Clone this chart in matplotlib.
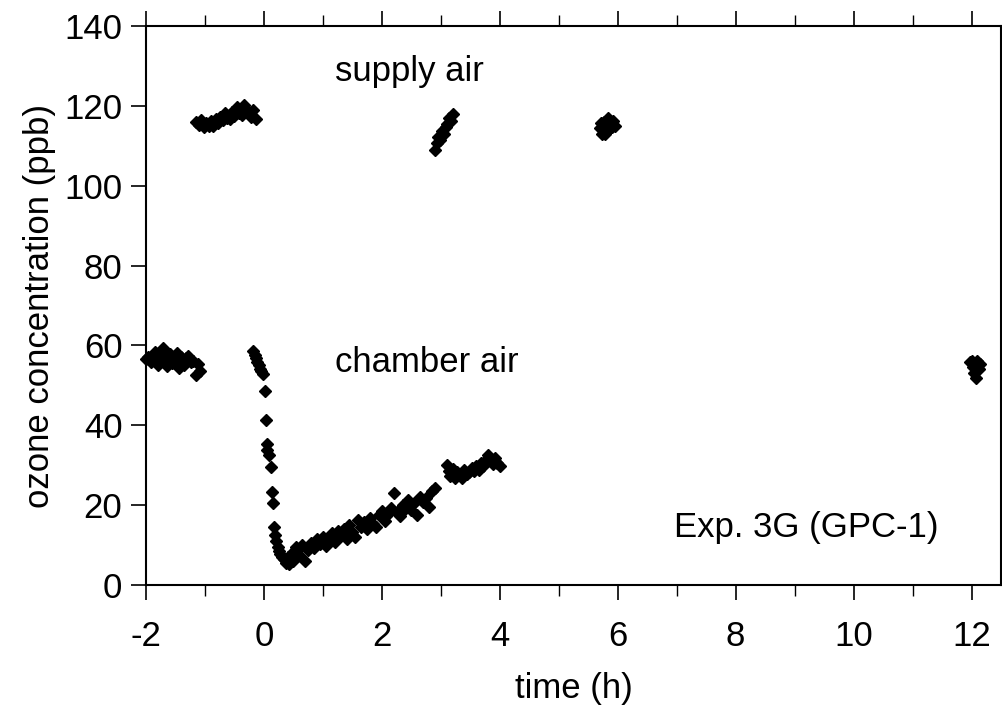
import matplotlib
matplotlib.use("Agg")
import matplotlib.pyplot as plt
from matplotlib.ticker import MultipleLocator

plt.rcParams['font.family'] = ['Liberation Sans', 'DejaVu Sans']

# chamber air, before exposure
chamber_pre_t = [-2.00, -1.96, -1.92, -1.88, -1.84, -1.80, -1.76, -1.72, -1.68, -1.64, -1.60, -1.56,
                 -1.52, -1.48, -1.44, -1.40, -1.36, -1.32, -1.28, -1.24, -1.20, -1.16, -1.12, -1.08]
chamber_pre_c = [56.5, 57.2, 55.8, 56.9, 58.3, 55.1, 57.6, 59.4, 56.2, 54.8, 57.9, 55.6,
                 56.4, 58.1, 54.3, 57.0, 55.2, 56.8, 57.3, 55.9, 56.1, 52.6, 55.4, 53.6]

# supply air, first period
supply1_t = [-1.15, -1.10, -1.06, -1.02, -0.98, -0.94, -0.90, -0.86, -0.82, -0.78, -0.74, -0.70, -0.66,
             -0.62, -0.58, -0.54, -0.50, -0.46, -0.42, -0.38, -0.34, -0.30, -0.26, -0.22, -0.18, -0.14]
supply1_c = [116.0, 115.2, 116.5, 114.6, 115.8, 115.0, 116.3, 114.9, 116.8, 115.7, 117.2, 116.4, 118.1,
             117.0, 116.6, 118.5, 117.4, 119.8, 118.2, 117.6, 120.1, 119.0, 118.4, 117.3, 118.9, 116.8]

# chamber air, drop after start
drop_t = [-0.18, -0.15, -0.13, -0.11, -0.09, -0.07, -0.05, -0.02, 0.02, 0.03, 0.05, 0.06, 0.08, 0.12,
          0.14, 0.16, 0.17, 0.19, 0.21, 0.23, 0.25, 0.28, 0.31, 0.34, 0.37, 0.40, 0.43, 0.46, 0.49]
drop_c = [58.5, 57.6, 56.8, 55.9, 55.0, 54.2, 53.6, 52.8, 48.6, 41.3, 35.4, 33.9, 32.6, 29.6,
          23.2, 20.6, 14.6, 12.6, 10.9, 9.4, 8.6, 7.8, 7.1, 6.5, 5.6, 6.9, 5.3, 7.6, 6.1]

# chamber air, recovery
rise_t = [0.50, 0.55, 0.60, 0.65, 0.70, 0.75, 0.80, 0.85, 0.90, 0.95, 1.00, 1.05, 1.10, 1.15, 1.20,
          1.25, 1.30, 1.35, 1.40, 1.45, 1.50, 1.55, 1.60, 1.65, 1.70, 1.75, 1.80, 1.85, 1.90, 1.95,
          2.00, 2.05, 2.10, 2.15, 2.20, 2.25, 2.30, 2.35, 2.40, 2.45, 2.50, 2.55, 2.60, 2.65, 2.70,
          2.75, 2.80, 2.85, 2.90]
rise_c = [8.2, 9.6, 7.4, 10.1, 5.9, 8.8, 10.6, 9.3, 11.4, 10.2, 12.0, 9.7, 11.8, 12.9, 10.8,
          13.6, 12.3, 14.1, 11.5, 15.0, 13.2, 12.0, 16.3, 14.4, 15.7, 13.9, 16.8, 15.2, 14.6, 17.5,
          18.6, 16.1, 17.9, 19.3, 23.0, 18.4, 17.2, 20.1, 19.0, 21.4, 18.7, 20.6, 17.6, 22.1, 20.9,
          21.8, 19.5, 23.6, 24.2]

# chamber air, 3-4 h
c34_t = [3.10, 3.13, 3.16, 3.20, 3.24, 3.28, 3.32, 3.36, 3.40, 3.44, 3.48, 3.52, 3.56, 3.60, 3.64,
         3.68, 3.72, 3.76, 3.80, 3.84, 3.88, 3.92, 3.96, 4.00]
c34_c = [30.0, 28.6, 27.2, 29.1, 26.8, 28.3, 27.5, 26.9, 28.8, 27.7, 28.2, 29.4, 28.5, 29.9, 28.7,
         30.6, 29.8, 31.2, 32.6, 31.4, 30.3, 31.8, 30.5, 29.9]

# supply air, ~3 h
s2_t = [2.90, 2.93, 2.96, 2.99, 3.02, 3.05, 3.08, 3.11, 3.14, 3.17, 3.20]
s2_c = [109.0, 110.8, 112.2, 111.5, 113.6, 112.9, 114.8, 115.5, 116.9, 116.2, 118.0]

# supply air, ~6 h
s3_t = [5.70, 5.74, 5.77, 5.80, 5.83, 5.86, 5.89, 5.92, 5.95, 5.78, 5.84, 5.90, 5.72]
s3_c = [114.5, 113.0, 116.0, 115.2, 116.8, 114.1, 115.7, 116.3, 115.0, 112.9, 117.0, 114.6, 115.8]

# chamber air, ~12 h
c12_t = [11.97, 12.00, 12.02, 12.04, 12.06, 12.08, 12.10, 12.12, 12.15]
c12_c = [55.9, 56.2, 54.5, 53.1, 55.4, 51.8, 56.1, 54.0, 55.3]

x_ticks = [-2, 0, 2, 4, 6, 8, 10, 12]
y_ticks = [0, 20, 40, 60, 80, 100, 120, 140]

fig = plt.figure(figsize=(10.03, 7.19), dpi=100)
ax = fig.add_axes([0.1456, 0.1864, 0.998 - 0.1456, 0.9638 - 0.1864])

all_t = chamber_pre_t + supply1_t + drop_t + rise_t + c34_t + s2_t + s3_t + c12_t
all_c = chamber_pre_c + supply1_c + drop_c + rise_c + c34_c + s2_c + s3_c + c12_c
ax.plot(all_t, all_c, linestyle='none', marker='D', markersize=6.5, color='black', clip_on=False)

ax.set_xlim(-2, 12.5)
ax.set_ylim(0, 140)
ax.set_xticks(x_ticks)
ax.set_xticklabels([str(v) for v in x_ticks])
ax.set_yticks(y_ticks)
ax.set_yticklabels([str(v) for v in y_ticks])
ax.xaxis.set_minor_locator(MultipleLocator(1))

tfs = 25
ax.tick_params(axis='x', which='major', direction='out', length=11, width=1.2,
               labelsize=tfs, pad=14, top=True)
ax.tick_params(axis='x', which='minor', direction='out', length=8, width=1.0, top=True)
ax.tick_params(axis='y', which='major', direction='out', length=11, width=1.2,
               labelsize=tfs, pad=6)
for s in ax.spines.values():
    s.set_linewidth(1.5)

ax.set_xlabel('time (h)', fontsize=25, labelpad=14)
ax.set_ylabel('ozone concentration (ppb)', fontsize=25, labelpad=6)

afs = 25
ax.text(1.2, 128.5, 'supply air', fontsize=afs, ha='left', va='center')
ax.text(1.2, 55.8, 'chamber air', fontsize=afs, ha='left', va='center')
ax.text(6.95, 14.5, 'Exp. 3G (GPC-1)', fontsize=afs, ha='left', va='center')

fig.savefig('out.png', dpi=100)
